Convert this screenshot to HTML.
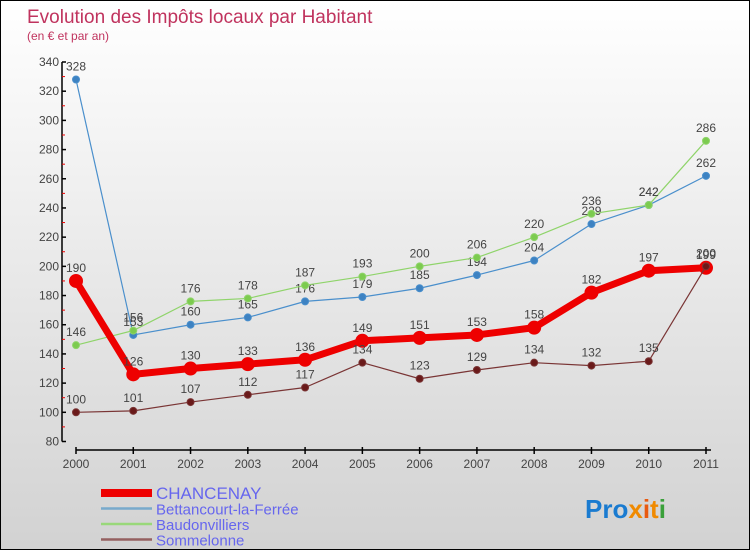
<!DOCTYPE html>
<html><head><meta charset="utf-8">
<style>
html,body{margin:0;padding:0}
body{width:750px;height:550px;overflow:hidden;font-family:"Liberation Sans",sans-serif}
#wrap{position:relative;width:748px;height:548px;border:1px solid #000;background:linear-gradient(#ffffff,#d2d2d2)}
svg{position:absolute;left:0;top:0}
</style></head>
<body>
<div id="wrap">
<svg id="chart" width="750" height="550">
<text x="26" y="22" font-size="19" fill="#c0335e">Evolution des Impôts locaux par Habitant</text>
<text x="26" y="39" font-size="12" fill="#c0335e">(en € et par an)</text>
<g id="axes"></g>
<g id="series"></g>
<g id="legend"></g>
<text x="584" y="517" font-size="26" font-weight="bold"><tspan fill="#1a7bd0">Pro</tspan><tspan fill="#f08a00">x</tspan><tspan fill="#e85a10">i</tspan><tspan fill="#f08a00">t</tspan><tspan fill="#3aa03a">i</tspan></text>
</svg>
</div>
<script>
const years = ["2000","2001","2002","2003","2004","2005","2006","2007","2008","2009","2010","2011"];
const yTicks = [80,100,120,140,160,180,200,220,240,260,280,300,320,340];
const chancenay = [190,126,130,133,136,149,151,153,158,182,197,199];
const bettancourt = [328,153,160,165,176,179,185,194,204,229,242,262];
const baudonvilliers = [146,156,176,178,187,193,200,206,220,236,242,286];
const sommelonne = [100,101,107,112,117,134,123,129,134,132,135,200];
const seriesNames = ["CHANCENAY","Bettancourt-la-Ferrée","Baudonvilliers","Sommelonne"];

const NS="http://www.w3.org/2000/svg";
const X0=75, X1=705, YMIN=80, YMAX=340, PY0=440.5, PY1=61;
function xs(i){return X0+(X1-X0)*i/(years.length-1);}
function ys(v){return PY0-(v-YMIN)*(PY0-PY1)/(YMAX-YMIN);}
function mk(tag,attrs,parent){const e=document.createElementNS(NS,tag);for(const k in attrs)e.setAttribute(k,attrs[k]);parent.appendChild(e);return e;}

const axes=document.getElementById('axes');
let l=mk('line',{x1:61,y1:PY1,x2:61,y2:PY0,stroke:'#000','stroke-width':1.5},axes);


yTicks.forEach((t,i)=>{
  const y=ys(t);
  const tk=mk('line',{x1:61,y1:y,x2:65,y2:y,stroke:'#000','stroke-width':1.5},axes);
  
  
  if(i<yTicks.length-1){const ym=ys(t+10);const m=mk('line',{x1:61,y1:ym,x2:64,y2:ym,stroke:'#e00','stroke-width':1},axes);
    
    }
  const tx=mk('text',{x:58,y:y+4,'font-size':12,fill:'#444','text-anchor':'end'},axes);
  tx.textContent=t;
  
  
});
l=mk('line',{x1:X0,y1:449,x2:X1+5,y2:449,stroke:'#000','stroke-width':1.5},axes);


years.forEach((yr,i)=>{
  const x=xs(i);
  const tk=mk('line',{x1:x,y1:446,x2:x,y2:453,stroke:'#000','stroke-width':1.5},axes);
  
  
  const tx=mk('text',{x:x,y:467,'font-size':12,fill:'#444','text-anchor':'middle'},axes);
  tx.textContent=yr;
  
  
});

const sg=document.getElementById('series');
function drawSeries(vals,color,dot,width,r,name){
  const g=mk('g',{},sg);
  
  
  const pl=mk('polyline',{points:vals.map((v,i)=>xs(i)+','+ys(v)).join(' '),fill:'none',stroke:color,'stroke-width':width,'stroke-linejoin':'round'},g);
  
  
  vals.forEach((v,i)=>{
    const c=mk('circle',{cx:xs(i),cy:ys(v),r:r,fill:dot,stroke:color,'stroke-width':1},g);
    
    
    const t=mk('text',{x:xs(i),y:ys(v)-9,'font-size':12,fill:'#444','text-anchor':'middle'},g);
    t.textContent=v;
    
    
  });
}
drawSeries(bettancourt,'#4a8fcc','#3d82c2',1.2,3.5,'bettancourt');
drawSeries(baudonvilliers,'#8fd46a','#7ccb4f',1.2,3.5,'baudonvilliers');
drawSeries(chancenay,'#ee0000','#ee0000',7,6.5,'chancenay');
drawSeries(sommelonne,'#7a3535','#6a1a1a',1.2,3.5,'sommelonne');

const lg=document.getElementById('legend');
const lc=['#ee0000','#78aacc','#99d87a','#946060'], lw=[8,2.5,2.5,2.5];
seriesNames.forEach((n,i)=>{
  const y=492+i*15.5;
  const ln=mk('line',{x1:100,y1:y,x2:151,y2:y,stroke:lc[i],'stroke-width':lw[i]},lg);
  
  
  const t=mk('text',{x:155,y:y+6,'font-size':i==0?17:15,fill:'#6666ee'},lg);
  t.textContent=n;
  
  
});
</script>
</body></html>
